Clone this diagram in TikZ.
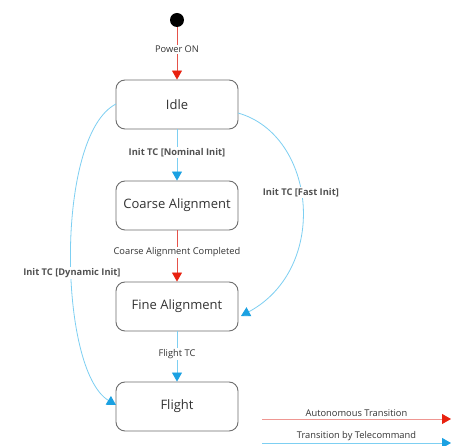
\documentclass[tikz,border=0pt]{standalone}
\usepackage{fontspec}
\setmainfont{Open Sans}
\usetikzlibrary{arrows.meta}
\definecolor{autored}{HTML}{E8210F}
\definecolor{autoline}{HTML}{E5524A}
\definecolor{tcblue}{HTML}{1BA1E2}
\definecolor{tcline}{HTML}{7DCFF2}
\definecolor{boxgray}{HTML}{6E6E6E}
\definecolor{txt}{HTML}{333333}
\begin{document}
\begin{tikzpicture}[x=1pt,y=-1pt,
  state/.style={draw=boxgray, line width=0.9pt, rounded corners=9pt, minimum width=122pt, minimum height=49pt, font=\fontsize{13}{15}\selectfont, text=txt, inner sep=0pt},
  auto/.style={draw=autoline, line width=0.8pt, -{Triangle[width=10pt,length=9pt,color=autored]}},
  tc/.style={draw=tcline, line width=0.8pt, -{Triangle[width=10pt,length=9pt,color=tcblue]}},
  lbl/.style={fill=white, font=\fontsize{9.3}{11}\selectfont, text=txt, inner sep=1pt},
  blbl/.style={lbl, font=\fontsize{9.3}{11}\selectfont\bfseries, text=txt!85}
]
\useasboundingbox[fill=white] (0,0) rectangle (451,446);
\node[circle, fill=black, minimum size=14pt, inner sep=0pt] (start) at (177,20) {};
\node[state] (idle) at (177,104.5) {Idle};
\node[state] (coarse) at (177,205.5) {Coarse Alignment};
\node[state] (fine) at (177,306.5) {Fine Alignment};
\node[state] (flight) at (177,406.5) {Flight};

\draw[auto] (start) -- node[lbl, pos=0.42] {Power ON} (idle);
\draw[tc] (idle) -- node[blbl, pos=0.45] {Init TC [Nominal Init]} (coarse);
\draw[auto] (coarse) -- node[lbl, pos=0.43] {Coarse Alignment Completed} (fine);
\draw[tc] (fine) -- node[lbl, pos=0.45] {Flight TC} (flight);

\coordinate (ie) at (238,113);
\coordinate (fe) at (241,316);
\draw[tc] (ie) .. controls (316,135) and (330,268) .. node[blbl, pos=0.45] {Init TC [Fast Init]} (fe);
\coordinate (iw) at (116,104);
\coordinate (flw) at (116,405);
\draw[tc] (iw) .. controls (55,135) and (58,370) .. node[blbl, pos=0.55] {Init TC [Dynamic Init]} (flw);

\coordinate (la1) at (262,419);
\coordinate (la2) at (451,419);
\draw[draw=autoline!60, line width=0.8pt, -{Triangle[width=10pt,length=9pt,color=autored]}] (la1) -- node[lbl, above=1pt, fill=none] {Autonomous Transition} (la2);
\coordinate (lb1) at (262,443);
\coordinate (lb2) at (451,443);
\draw[draw=tcline, line width=0.8pt, -{Triangle[width=10pt,length=9pt,color=tcblue]}] (lb1) -- node[lbl, above=1pt, fill=none] {Transition by Telecommand} (lb2);
\end{tikzpicture}
\end{document}
